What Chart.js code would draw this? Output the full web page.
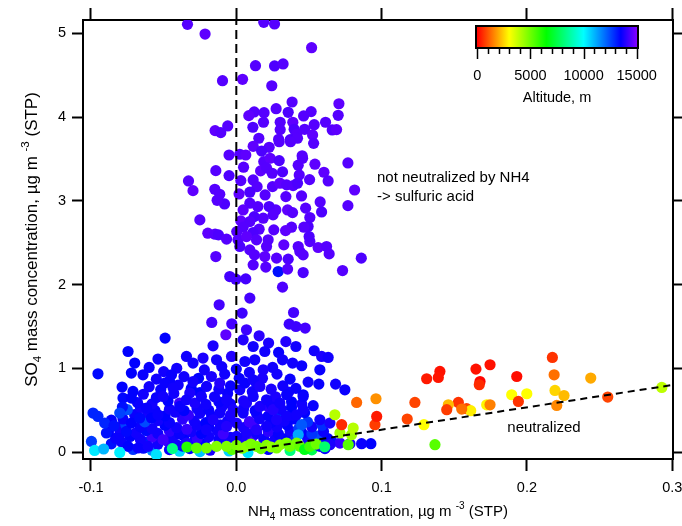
<!DOCTYPE html>
<html>
<head>
<meta charset="utf-8">
<script src="https://cdn.jsdelivr.net/npm/chart.js@4/dist/chart.umd.min.js"></script>
<style>
  html, body { margin: 0; padding: 0; background: #ffffff; }
  #wrap { width: 682px; height: 526px; }
</style>
</head>
<body>
<div id="wrap"><canvas id="chart" width="682" height="526"></canvas></div>
<script>
// ---- axis ticks ----
const nh4Ticks = [-0.1, 0, 0.1, 0.2, 0.3];
const so4Ticks = [0, 1, 2, 3, 4, 5];
const altTicks = [0, 5000, 10000, 15000];
const altMinorTicks = [1000, 2000, 3000, 4000, 6000, 7000, 8000, 9000, 11000, 12000, 13000, 14000];

// ---- acidic aerosol, high altitude (not neutralized) ----
const acidNH4 = [
  -0.0336,-0.0215,0.0189,0.0263,0.0518,0.0132,0.0263,0.0322,-0.0095,0.0043,
  0.0244,0.0384,0.0706,0.0274,0.0357,0.0191,0.0123,0.0086,0.0463,0.0515,
  0.0701,-0.0146,-0.0107,-0.0059,0.0114,0.0187,0.0302,0.0389,0.0536,0.0614,
  0.0660,0.0690,0.0302,0.0398,0.0470,0.0415,0.0525,0.0155,0.0291,0.0371,
  0.0421,0.0532,0.0116,0.0226,0.0174,-0.0050,0.0024,0.0065,0.0453,0.0295,
  0.0373,0.0189,0.0233,0.0295,0.0456,0.0426,0.0541,0.0768,-0.0141,-0.0050,
  0.0050,0.0167,0.0208,0.0247,0.0318,0.0433,0.0504,0.0603,0.0632,-0.0329,
  -0.0298,-0.0148,-0.0114,-0.0081,-0.0132,0.0031,0.0019,0.0116,0.0143,0.0093,
  0.0198,0.0249,0.0300,0.0346,0.0391,0.0421,0.0341,0.0449,0.0814,0.0768,
  0.0577,0.0587,0.0477,0.0353,0.0387,0.0272,0.0226,0.0148,0.0093,0.0047,
  0.0185,0.0253,0.0123,-0.0251,0.0031,0.0093,0.0506,0.0494,0.0465,0.0380,
  0.0339,0.0258,0.0157,0.0116,0.0047,0.0003,-0.0196,-0.0146,-0.0123,-0.0067,
  0.0012,0.0070,0.0139,0.0219,0.0024,0.0093,0.0208,0.0327,0.0426,0.0506,
  0.0501,0.0437,0.0460,0.0563,0.0621,0.0639,0.0860,-0.0141,0.0125,0.0196,
  0.0277,0.0357,0.0116,0.0203,0.0288,0.0353,0.0460,0.0731,-0.0045,-0.0003,
  0.0065,0.0318,0.0093,-0.0118,0.0394,0.0040,-0.0169,-0.0031,-0.0072,0.0070,
  0.0364,0.0410,0.0474
];
const acidSO4 = [
  5.107,4.991,5.131,5.111,4.828,4.613,4.610,4.634,4.434,4.451,
  4.374,4.180,4.159,4.100,4.057,4.052,4.061,4.017,4.013,4.065,
  4.021,3.838,3.814,3.894,3.878,3.938,3.938,3.938,3.909,3.938,
  3.846,3.850,3.850,3.854,3.854,3.795,3.786,3.747,3.735,3.730,
  3.747,3.686,3.651,3.639,3.594,3.547,3.556,3.547,3.538,3.705,
  3.705,3.468,3.508,3.480,3.508,3.425,3.437,3.452,3.360,3.301,
  3.401,3.357,3.393,3.329,3.345,3.309,3.253,3.341,3.237,3.237,
  3.121,3.138,3.078,2.962,3.006,3.241,3.082,3.249,3.169,3.103,
  3.070,3.169,3.210,3.190,3.181,3.210,3.050,3.058,3.129,2.942,
  2.986,2.867,2.912,2.891,2.859,2.891,2.931,2.931,2.971,2.891,
  2.792,2.832,2.811,2.772,2.760,2.752,2.800,2.692,2.685,2.685,
  2.644,2.653,2.661,2.621,2.685,2.632,2.613,2.601,2.593,2.542,
  2.534,2.573,2.534,2.534,2.454,2.414,2.454,2.474,2.454,2.513,
  2.573,2.394,2.354,2.442,2.454,2.366,2.315,2.334,2.354,2.334,
  2.315,2.303,2.235,2.208,2.155,2.184,2.143,2.167,2.095,2.064,
  2.068,1.969,1.838,1.758,1.666,1.659,1.547,1.531,1.400,1.459,
  1.527,1.499,1.480
];
const acidAlt = [
  14500,14600,14500,14500,14600,14500,14400,14500,14500,14600,
  14500,14500,14600,14500,14400,14500,14500,14600,14500,14500,
  14500,14600,14500,14500,14400,14500,14500,14600,14500,14500,
  14500,14600,14500,14400,14500,14500,14600,14500,14500,14400,
  14500,14500,14600,14500,14400,14500,14500,14600,14500,14500,
  14500,14500,14600,14400,14500,14500,14600,14500,14500,14400,
  14500,14600,14500,14500,14400,14500,14500,14600,14500,14500,
  14600,14500,14500,14400,14500,14500,14600,14500,14500,14400,
  14500,14500,14600,14500,14500,14400,14500,14500,14600,14500,
  14500,14400,14500,14600,14500,14500,14400,14500,14500,14600,
  14500,14500,14400,14500,14600,14500,14500,14400,14500,14500,
  14600,14500,14500,14400,14500,14500,14600,14500,14400,14500,
  14500,14600,14500,14500,14400,14500,14500,14600,14500,14500,
  14400,14500,14500,14600,14500,14500,14400,14500,14500,14600,
  14500,14400,14500,14500,13300,14500,14400,14500,14300,14300,
  14300,14400,14300,14300,14300,14200,14300,14300,14600,14200,
  14200,14200,14300
];

// ---- lower cloud, mostly upper troposphere ----
const lowNH4 = [
  -0.071,-0.064,-0.058,-0.046,-0.039,-0.032,-0.025,-0.018,-0.005,0.008,0.022,0.037,0.052,0.061,
  -0.086,-0.079,-0.063,-0.054,-0.047,-0.037,-0.029,-0.022,-0.008,0.009,0.023,0.036,0.050,0.058,0.066,
  -0.083,-0.073,-0.066,-0.058,-0.044,-0.036,-0.027,-0.019,-0.012,-0.004,0.004,0.011,0.019,0.027,0.034,0.041,0.049,0.056,0.063,
  -0.088,-0.080,-0.069,-0.062,-0.054,-0.046,-0.039,-0.031,-0.024,-0.013,-0.009,0.014,0.022,0.029,0.037,0.045,0.052,0.060,
  -0.081,-0.076,-0.066,-0.058,-0.049,-0.041,-0.034,-0.027,-0.019,-0.011,0.005,0.012,0.028,0.035,0.043,0.052,0.059,
  -0.086,-0.078,-0.063,-0.054,-0.046,-0.037,-0.029,-0.021,-0.006,0.009,0.016,0.024,0.033,0.040,0.049,
  -0.070,-0.061,-0.049,-0.042,-0.033,-0.025,-0.017,-0.004,0.014,0.022,0.030,0.039,0.047,
  -0.075,-0.066,-0.056,-0.046,-0.036,-0.027,-0.019,-0.010,0.005,0.013,0.022,0.031,0.038,0.046,
  -0.068,-0.058,-0.047,-0.039,-0.021,-0.012,-0.004,0.005,0.024,0.038,0.045,
  -0.064,-0.055,-0.043,-0.025,-0.015,-0.006,0.011,0.027,0.036,
  -0.060,-0.052,-0.040,-0.031,-0.012,-0.004,0.014,0.024,0.032,0.041,
  -0.055,-0.046,-0.036,-0.026,-0.008,0.002,0.009,0.018,0.028,0.037,-0.050,-0.022,
  -0.041,-0.010,0.000,0.025,0.045,-0.060,
  -0.0490,0.0341,0.0047,0.0157,0.0222,0.0410,-0.0745,-0.0160,0.0116,0.0196,
  0.0291,0.0536,0.0587,0.0632,-0.0699,-0.0539,-0.0343,-0.0298,-0.0229,-0.0136,
  -0.0033,0.0059,0.0127,0.0185,0.0318,0.0387,0.0575,-0.0952,-0.0722,-0.0642,
  -0.0446,0.0494,0.0568,0.0683,0.0747,0.0460,0.0529,-0.0986,-0.0997,-0.0894,
  -0.0906,-0.0952,-0.0842,-0.0786,-0.0780,-0.0722,-0.0711,-0.0784,-0.0802,-0.0756,
  -0.0722,-0.0665,-0.0618,-0.0584,-0.0539,-0.0504,-0.0492,-0.0435,-0.0298,-0.0320,
  -0.0389,-0.0343,-0.0286,-0.0240,-0.0205,-0.0171,-0.0114,-0.0067,-0.0022,-0.0114,
  -0.0160,-0.0205,-0.0067,0.0001,0.0047,0.0070,0.0024,0.0059,0.0116,0.0162,
  0.0116,0.0162,0.0208,0.0253,0.0300,0.0346,0.0277,0.0208,0.0139,0.0070,
  0.0001,0.0346,0.0415,0.0460,0.0449,0.0426,0.0575,0.0644,0.0926,0.0862,
  0.0782,0.0713,0.0644,0.0575,-0.0745,-0.0676,-0.0607,-0.0504,-0.0412,-0.0343,
  -0.0975,-0.0913,-0.0802,-0.0550
];
const lowSO4 = [
  0.030,0.045,0.020,0.028,0.010,0.040,0.005,0.022,0.012,-0.005,0.030,0.018,0.025,0.040,
  0.098,0.120,0.118,0.092,0.125,0.070,0.128,0.095,0.110,0.118,0.104,0.125,0.112,0.128,0.120,
  0.165,0.185,0.150,0.178,0.170,0.190,0.158,0.182,0.150,0.175,0.160,0.185,0.150,0.176,0.160,0.182,0.165,0.190,0.160,
  0.240,0.215,0.230,0.255,0.222,0.248,0.215,0.240,0.220,0.250,0.215,0.220,0.245,0.215,0.250,0.232,0.218,0.245,
  0.290,0.325,0.300,0.280,0.318,0.290,0.272,0.318,0.300,0.325,0.290,0.320,0.298,0.322,0.280,0.300,0.320,
  0.380,0.395,0.360,0.375,0.352,0.392,0.368,0.350,0.372,0.362,0.398,0.355,0.370,0.395,0.360,
  0.448,0.470,0.432,0.475,0.440,0.462,0.430,0.440,0.455,0.430,0.465,0.440,0.470,
  0.505,0.530,0.495,0.512,0.495,0.520,0.500,0.535,0.520,0.495,0.540,0.510,0.535,0.505,
  0.590,0.575,0.610,0.585,0.570,0.600,0.575,0.610,0.570,0.600,0.575,
  0.690,0.650,0.700,0.710,0.660,0.700,0.720,0.660,0.715,
  0.780,0.745,0.800,0.760,0.750,0.790,0.810,0.750,0.790,0.760,
  0.870,0.850,0.900,0.880,0.930,0.880,0.950,0.880,0.930,0.870,0.960,0.980,
  1.000,1.020,0.990,1.010,1.030,1.010,
  1.360,1.318,1.340,1.388,1.301,1.260,1.200,1.268,1.260,1.200,
  1.189,1.209,1.141,1.129,1.062,1.110,1.141,1.062,1.122,1.101,
  1.141,1.081,1.101,0.982,1.101,1.062,0.982,0.934,0.943,0.922,
  0.922,0.835,0.811,0.811,0.743,0.684,0.553,0.465,0.126,0.227,
  0.346,0.425,0.314,0.776,0.644,0.644,0.723,0.537,0.465,0.246,
  0.346,0.406,0.525,0.406,0.445,0.663,0.823,0.764,0.842,0.704,
  0.544,0.624,0.585,0.663,0.783,0.902,0.823,0.624,0.505,0.465,
  0.385,0.266,0.305,0.346,0.465,0.585,0.743,0.823,0.863,0.783,
  0.663,0.544,0.624,0.505,0.585,0.425,0.385,0.305,0.266,0.227,
  0.186,0.684,0.445,0.663,0.326,0.206,0.385,0.346,0.099,0.099,
  0.099,0.107,0.087,0.067,0.067,0.048,0.067,0.147,0.087,0.107,
  0.019,0.036,-0.005,-0.032
];
const lowAlt = [
  12800,13400,11600,13600,10500,13500,10800,13800,10600,10400,13500,8200,7600,13600,
  13300,13600,13200,13700,14000,13400,13600,13500,13700,13400,13800,13500,14200,13600,13300,
  13600,13500,13700,14200,13700,13500,14100,13700,13600,13700,13800,14300,13600,13700,13500,12800,13700,12500,13500,
  13500,13600,13700,13400,13700,14000,13600,13700,13500,13700,14200,13700,14000,13600,13700,13500,12800,13600,
  13700,12600,13600,13700,13500,13700,14100,13700,13600,13700,13800,14300,13700,13500,12700,13700,12900,
  13500,13600,12500,13700,13600,14000,13700,13500,13700,14200,13700,13600,13700,13500,12800,
  13600,13700,13500,13700,14100,13700,13600,13800,13700,13600,12900,13700,13500,
  12400,13700,13600,13700,13500,13700,13600,13700,13700,13600,14000,13700,13500,13700,
  13600,13700,13500,14200,13700,13600,13700,13800,13700,13500,13700,
  13700,13600,13700,13500,13700,13600,13700,13800,13700,
  13700,13600,13700,13500,13700,13600,13700,13800,13700,13600,
  13700,13600,13700,13500,13700,13600,13700,13800,13700,13600,13700,13700,
  13700,13700,13600,13700,13600,13600,
  13500,13900,13900,14000,13800,13700,13500,13800,13700,13700,
  13600,13700,13800,13700,13500,13600,13700,13700,13800,13700,
  13900,13700,13700,13800,13700,13700,13600,13400,13500,13600,
  13600,13700,13600,13700,13600,13500,13600,13000,12700,13300,
  13000,13000,13300,13500,13400,13500,13500,13300,12600,13400,
  13500,13400,13600,13500,13600,13700,13600,13700,13700,13800,
  13600,13700,13800,13700,13700,13800,13900,13700,13800,13700,
  13800,13700,13900,13800,13700,13800,13700,13600,13700,13800,
  13700,13800,13700,13900,13700,13700,13800,13700,13900,13800,
  13700,13600,13700,13600,12300,11200,13700,13800,13500,13600,
  13700,14100,13800,13700,13500,13600,13700,14200,13700,13800,
  10300,11000,10200,10400
];

// ---- mid-altitude samples near the origin ----
const midNH4 = [
  -0.034,-0.044,-0.0274,-0.0205,-0.0136,-0.003,-0.0067,0.0001,0.004,0.0070,
  0.010,0.0139,0.017,0.0208,0.024,0.0277,0.030,0.0346,0.0368,0.0415,
  0.0437,0.047,0.0506,0.055,0.0608,0.0713,0.0770,0.0793,0.0678,0.0804,
  0.1367
];
const midSO4 = [
  0.060,0.040,0.048,0.048,0.067,0.030,0.067,0.079,0.045,0.067,
  0.095,0.067,0.040,0.079,0.060,0.048,0.085,0.107,0.067,0.107,
  0.067,0.030,0.067,0.095,0.063,0.227,0.087,0.206,0.445,0.286,
  0.087
];
const midAlt = [
  6000,8300,5200,4900,4700,5300,4800,4800,4700,4600,
  4800,4900,5000,4700,4500,4800,4600,4700,5000,4900,
  5200,6800,5600,5000,8000,4300,5300,4300,4000,4000,
  5300
];

// ---- boundary-layer samples (neutralized) ----
const bblNH4 = [
  0.2175,0.1746,0.1649,0.1930,0.1677,0.1672,0.1401,0.1390,0.1310,0.2187,
  0.2439,0.2193,0.2255,0.1999,0.1895,0.1941,0.2205,0.2556,0.2928,0.1723,
  0.1746,0.1528,0.1459,0.1448,0.1585,0.1613,0.1551,0.1229,0.1176,0.1291,
  0.0828,0.0961,0.0954,0.0966,0.0725
];
const bblSO4 = [
  1.129,1.042,0.990,0.902,0.842,0.803,0.962,0.890,0.875,0.922,
  0.883,0.735,0.675,0.696,0.684,0.604,0.556,0.656,0.771,0.564,
  0.564,0.592,0.564,0.505,0.517,0.493,0.513,0.592,0.394,0.326,
  0.592,0.636,0.326,0.425,0.326
];
const bblAlt = [
  600,200,200,150,50,500,200,250,300,1300,
  2000,2500,2200,3000,3000,600,1600,800,3900,2900,
  1500,600,2200,700,800,2800,1300,800,800,3000,
  1200,1700,700,300,500
];

// ---- reference lines ----
const zeroLineNH4 = [0, 0];
const zeroLineSO4 = [-0.0835, 5.159];
const sulfateLineNH4 = [0, 0.3005];
const sulfateLineSO4 = [0, 0.8013];

// ---- colour table for altitude ----
const ALT_MAX = 15000;
const altStops = [0, 3000, 6500, 10000, 13500, 15000];
const altRGB = [[255,0,0],[255,255,0],[0,255,0],[0,255,255],[0,0,255],[128,0,255]];
function altColor(a) {
  a = Math.max(0, Math.min(ALT_MAX, a));
  for (let i = 1; i < altStops.length; i++) {
    if (a <= altStops[i]) {
      const t = (a - altStops[i-1]) / (altStops[i] - altStops[i-1]);
      const c0 = altRGB[i-1], c1 = altRGB[i];
      const c = c0.map((v, k) => Math.round(v + (c1[k] - v) * t));
      return `rgb(${c[0]},${c[1]},${c[2]})`;
    }
  }
  return 'rgb(128,0,255)';
}

const FONT = '"Liberation Sans", Arial, sans-serif';
const X_RANGE = [-0.1055, 0.3005];
const Y_RANGE = [-0.0835, 5.159];

function xy(xs, ys) { return xs.map((x, i) => ({ x: x, y: ys[i] })); }

function scatterSet(label, xs, ys, alts, order) {
  return {
    type: 'scatter', label, order, clip: 0,
    data: xy(xs, ys),
    pointRadius: 5.6, pointHoverRadius: 5.6, pointBorderWidth: 0,
    pointBackgroundColor: alts.map(altColor),
    pointBorderColor: alts.map(altColor)
  };
}
function dashedSet(label, xs, ys, dash) {
  return {
    type: 'line', label, order: 0, clip: 0,
    data: xy(xs, ys),
    borderColor: '#000', borderWidth: 2, borderDash: dash,
    pointRadius: 0, fill: false, tension: 0
  };
}

function axis(pos, ticks, range, size, tickLen, showLabels, fmt, pad) {
  const horizontal = (pos === 'top' || pos === 'bottom');
  return {
    type: 'linear', position: pos, min: range[0], max: range[1],
    afterBuildTicks: s => { s.ticks = ticks.map(v => ({ value: v })); },
    afterFit: s => {
      if (horizontal) s.height = size; else s.width = size;
      s.paddingLeft = 0; s.paddingRight = 0; s.paddingTop = 0; s.paddingBottom = 0;
    },
    ticks: {
      display: showLabels, autoSkip: false, maxRotation: 0, padding: pad,
      color: '#000', font: { family: FONT, size: 14.5 }, callback: fmt
    },
    grid: {
      display: true, drawOnChartArea: false, drawTicks: true,
      tickLength: tickLen, tickWidth: 2, tickColor: '#000', color: '#000'
    },
    border: { display: true, color: '#000', width: 2 }
  };
}

// text with sub/superscripts, centred on (x, y)
function richText(ctx, parts, x, y, angle) {
  ctx.save();
  ctx.translate(x, y);
  ctx.rotate(angle);
  ctx.textAlign = 'left';
  ctx.textBaseline = 'alphabetic';
  ctx.fillStyle = '#000';
  const widths = parts.map(p => { ctx.font = p.size + 'px ' + FONT; return ctx.measureText(p.text).width; });
  let cx = -widths.reduce((a, b) => a + b, 0) / 2;
  parts.forEach((p, i) => {
    ctx.font = p.size + 'px ' + FONT;
    ctx.fillText(p.text, cx, p.shift || 0);
    cx += widths[i];
  });
  ctx.restore();
}

const xTitle = [
  { text: 'NH', size: 15 }, { text: '4', size: 10, shift: 4 },
  { text: ' mass concentration, \u00b5g m ', size: 15 }, { text: '-3', size: 10, shift: -7 },
  { text: ' (STP)', size: 15 }
];
const yTitle = [
  { text: 'SO', size: 17 }, { text: '4', size: 11.5, shift: 4 },
  { text: ' mass concentration, \u00b5g m ', size: 17 }, { text: '-3', size: 11.5, shift: -8 },
  { text: ' (STP)', size: 17 }
];
const notes = [
  { text: 'not neutralized by NH4', x: 0.0968, y: 3.27 },
  { text: '-> sulfuric acid', y: 3.045, x: 0.0968 },
  { text: 'neutralized', x: 0.1865, y: 0.285 }
];

const decorations = {
  id: 'decorations',
  afterDraw(chart) {
    const ctx = chart.ctx, area = chart.chartArea;
    const sx = chart.scales.x, sy = chart.scales.y;
    // axis titles
    richText(ctx, xTitle, (area.left + area.right) / 2, area.bottom + 57, 0);
    richText(ctx, yTitle, 37, (area.top + area.bottom) / 2, -Math.PI / 2);
    // annotations
    ctx.save();
    ctx.font = '15px ' + FONT;
    ctx.fillStyle = '#000';
    ctx.textAlign = 'left';
    ctx.textBaseline = 'middle';
    notes.forEach(n => ctx.fillText(n.text, sx.getPixelForValue(n.x), sy.getPixelForValue(n.y)));
    ctx.restore();
    // altitude colour scale
    const bar = { left: 476, right: 638, top: 26, bottom: 48 };
    const x0 = 477.3, x1 = 636.7;
    const toX = v => x0 + (v / ALT_MAX) * (x1 - x0);
    ctx.save();
    const g = ctx.createLinearGradient(x0, 0, x1, 0);
    altStops.forEach((s, i) => g.addColorStop(s / ALT_MAX, `rgb(${altRGB[i].join(',')})`));
    ctx.fillStyle = g;
    ctx.fillRect(bar.left, bar.top, bar.right - bar.left, bar.bottom - bar.top);
    ctx.strokeStyle = '#000';
    ctx.lineWidth = 2;
    ctx.strokeRect(bar.left, bar.top, bar.right - bar.left, bar.bottom - bar.top);
    ctx.lineWidth = 1.5;
    ctx.beginPath();
    altTicks.forEach(v => { const x = Math.round(toX(v)) + 0.5; ctx.moveTo(x, bar.bottom); ctx.lineTo(x, bar.bottom + 11); });
    altMinorTicks.forEach(v => { const x = Math.round(toX(v)) + 0.5; ctx.moveTo(x, bar.bottom); ctx.lineTo(x, bar.bottom + 6); });
    ctx.stroke();
    ctx.fillStyle = '#000';
    ctx.font = '14.5px ' + FONT;
    ctx.textAlign = 'center';
    ctx.textBaseline = 'middle';
    altTicks.forEach(v => ctx.fillText(String(v), toX(v), 76));
    ctx.fillText('Altitude, m', (x0 + x1) / 2, 98);
    ctx.restore();
  }
};

new Chart(document.getElementById('chart'), {
  type: 'scatter',
  data: {
    datasets: [
      dashedSet('NH4 = 0', zeroLineNH4, zeroLineSO4, [9, 5]),
      dashedSet('ammonium sulfate', sulfateLineNH4, sulfateLineSO4, [7, 5]),
      scatterSet('boundary layer', bblNH4, bblSO4, bblAlt, 1),
      scatterSet('mid altitude', midNH4, midSO4, midAlt, 2),
      scatterSet('lower cloud', lowNH4, lowSO4, lowAlt, 3),
      scatterSet('acidic', acidNH4, acidSO4, acidAlt, 4)
    ]
  },
  options: {
    responsive: false,
    animation: false,
    devicePixelRatio: 1,
    layout: { padding: 0 },
    plugins: { legend: { display: false }, tooltip: { enabled: false } },
    scales: {
      x: axis('bottom', nh4Ticks, X_RANGE, 67, 12, true, v => Number(v).toFixed(1), 8),
      xTop: axis('top', nh4Ticks, X_RANGE, 20, 12, false, v => '', 0),
      y: axis('left', so4Ticks, Y_RANGE, 83, 11, true, v => String(v), 6),
      yRight: axis('right', so4Ticks, Y_RANGE, 9, 9, false, v => '', 0)
    }
  },
  plugins: [decorations]
});
</script>
</body>
</html>
